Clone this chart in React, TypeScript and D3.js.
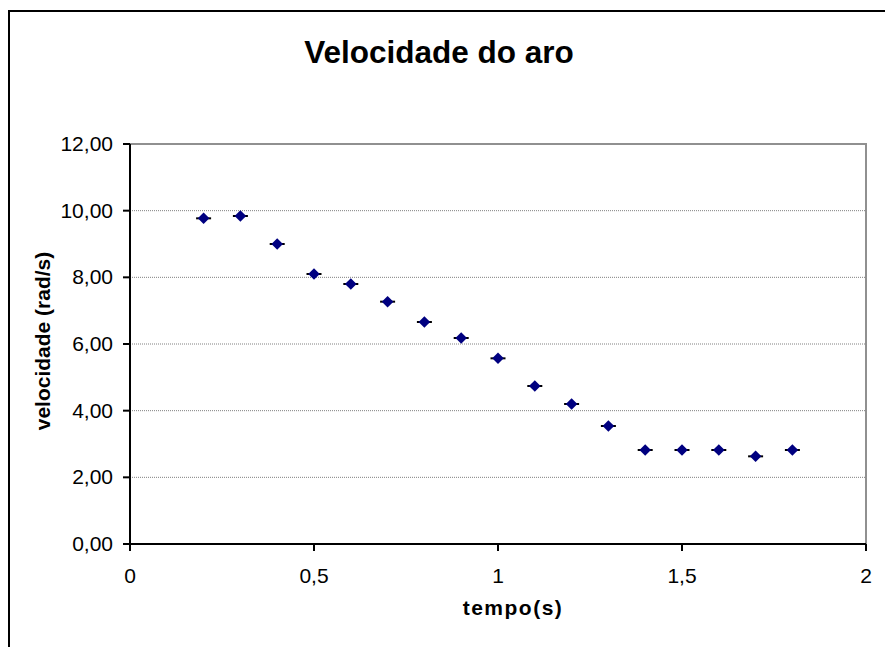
import * as d3 from "d3";

const tempo = [0.2, 0.3, 0.4, 0.5, 0.6, 0.7, 0.8, 0.9, 1.0, 1.1, 1.2, 1.3, 1.4, 1.5, 1.6, 1.7, 1.8];
const velocidade = [9.77, 9.84, 9.0, 8.1, 7.8, 7.27, 6.66, 6.18, 5.57, 4.74, 4.2, 3.54, 2.82, 2.82, 2.82, 2.63, 2.82];
const xTicks = [0, 0.5, 1, 1.5, 2];
const yTicks = [0, 2, 4, 6, 8, 10, 12];

const W = 885;
const H = 647;
const MARGIN = { TOP: 144, BOTTOM: 103, LEFT: 130, RIGHT: 19 };
const FONT = "Liberation Sans, Arial, sans-serif";

export default function App() {
  const xScale = d3.scaleLinear().domain([0, 2]).range([MARGIN.LEFT, W - MARGIN.RIGHT]);
  const yScale = d3.scaleLinear().domain([0, 12]).range([H - MARGIN.BOTTOM, MARGIN.TOP]);
  const x0 = xScale(0), x1 = xScale(2);
  const y0 = yScale(0), y1 = yScale(12);
  const fmtY = (v: number) => d3.format(".2f")(v).replace(".", ",");
  const fmtX = (v: number) => String(v).replace(".", ",");
  const diamond = d3.symbol(d3.symbolDiamond2, 85)();

  return (
    <svg width={W} height={H} style={{ position: "absolute", left: 0, top: 0, background: "#fff" }} fontFamily={FONT}>
      {/* outer chart border */}
      <rect x={9} y={11} width={W + 20} height={H + 20} fill="#fff" stroke="#000" strokeWidth={2} />

      <text x={439} y={63} textAnchor="middle" fontSize={31.5} fontWeight="bold">Velocidade do aro</text>

      {/* gridlines */}
      {yTicks.filter(t => t > 0 && t < 12).map(t => (
        <line key={t} x1={x0} x2={x1} y1={yScale(t)} y2={yScale(t)} stroke="#808080" strokeWidth={1} strokeDasharray="1,1" />
      ))}
      {/* plot area border (top / right) */}
      <path d={`M${x0},${y1}H${x1}V${y0}`} fill="none" stroke="#909090" strokeWidth={2} />

      {/* axes */}
      <line x1={x0} x2={x0} y1={y1} y2={y0 + 7} stroke="#000" strokeWidth={2} />
      <line x1={x0 - 7} x2={x1} y1={y0} y2={y0} stroke="#000" strokeWidth={2} />
      {yTicks.map(t => (
        <g key={t}>
          <line x1={x0 - 7} x2={x0} y1={yScale(t)} y2={yScale(t)} stroke="#000" strokeWidth={2} />
          <text x={x0 - 17} y={yScale(t) + 7} textAnchor="end" fontSize={21}>{fmtY(t)}</text>
        </g>
      ))}
      {xTicks.map(t => (
        <g key={t}>
          <line x1={xScale(t)} x2={xScale(t)} y1={y0} y2={y0 + 7} stroke="#000" strokeWidth={2} />
          <text x={xScale(t)} y={y0 + 39} textAnchor="middle" fontSize={21}>{fmtX(t)}</text>
        </g>
      ))}

      <text x={513} y={615} textAnchor="middle" fontSize={21} fontWeight="bold" letterSpacing={1.5}>tempo(s)</text>
      <text transform={`translate(50,${(y0 + y1) / 2 - 3}) rotate(-90)`} textAnchor="middle" fontSize={21} fontWeight="bold">velocidade (rad/s)</text>

      {/* points with horizontal error bars */}
      {tempo.map((t, i) => (
        <g key={t} transform={`translate(${xScale(t)},${yScale(velocidade[i])})`}>
          <line x1={-7.5} x2={7.5} y1={0} y2={0} stroke="#000" strokeWidth={2} />
          <path d={diamond!} fill="#000080" />
        </g>
      ))}
    </svg>
  );
}
